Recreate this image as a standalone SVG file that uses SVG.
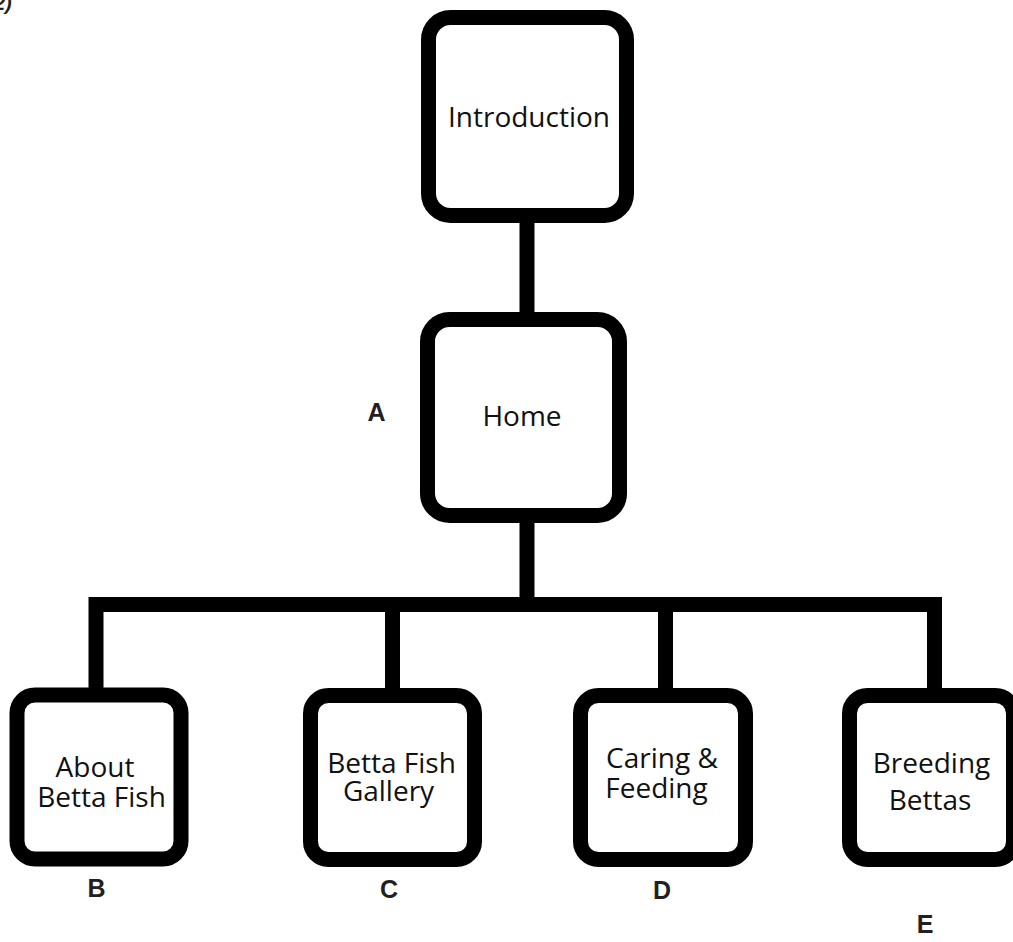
<svg xmlns="http://www.w3.org/2000/svg" width="1013" height="942" viewBox="0 0 1013 942">
<style>
.box{fill:#fff;stroke:#000;stroke-width:15}
.conn{fill:none;stroke:#000;stroke-width:15;stroke-linejoin:miter;stroke-linecap:butt}
.t{font-family:"Open Sans","Noto Sans",sans-serif;font-size:28px;fill:#111;text-anchor:middle}
.lbl{font-family:"Liberation Sans",Arial,sans-serif;font-weight:bold;font-size:25px;fill:#231f20;text-anchor:middle}
</style>
<rect width="1013" height="942" fill="#fff"/>
<text x="-6" y="10" style="font-family:'Liberation Sans',Arial,sans-serif;font-weight:bold;font-style:italic;font-size:20px;fill:#231f20">2)</text>
<g id="connectors">
<path class="conn" d="M527,215 V320"/>
<path class="conn" d="M527,515 V604.5"/>
<path class="conn" d="M96,696 V604.5 H934.5 V696"/>
<path class="conn" d="M392.5,604.5 V696"/>
<path class="conn" d="M665.5,604.5 V696"/>
</g>
<g id="introduction">
<rect class="box" x="428.5" y="17.5" width="198" height="198" rx="22"/>
<text class="t" x="529" y="127">Introduction</text>
</g>
<g id="home">
<rect class="box" x="427.5" y="319.5" width="192" height="196" rx="22"/>
<text class="t" x="522" y="426">Home</text>
</g>
<g id="about">
<rect class="box" x="17" y="695" width="164" height="164" rx="18"/>
<text class="t"><tspan x="95" y="777">About</tspan><tspan x="101.5" y="807">Betta Fish</tspan></text>
</g>
<g id="gallery">
<rect class="box" x="310.5" y="695.5" width="164" height="164" rx="18"/>
<text class="t"><tspan x="391.5" y="773">Betta Fish</tspan><tspan x="388.5" y="801">Gallery</tspan></text>
</g>
<g id="caring">
<rect class="box" x="580.5" y="695.5" width="165" height="164" rx="18"/>
<text class="t"><tspan x="662" y="768">Caring &amp;</tspan><tspan x="656.5" y="798">Feeding</tspan></text>
</g>
<g id="breeding">
<rect class="box" x="849.5" y="695.5" width="164" height="164" rx="18"/>
<text class="t"><tspan x="931.5" y="773">Breeding</tspan><tspan x="930" y="810">Bettas</tspan></text>
</g>
<g id="labels">
<text class="lbl" x="376.5" y="421">A</text>
<text class="lbl" x="96.5" y="897">B</text>
<text class="lbl" x="389" y="898">C</text>
<text class="lbl" x="662" y="899">D</text>
<text class="lbl" x="925" y="933">E</text>
</g>
</svg>
